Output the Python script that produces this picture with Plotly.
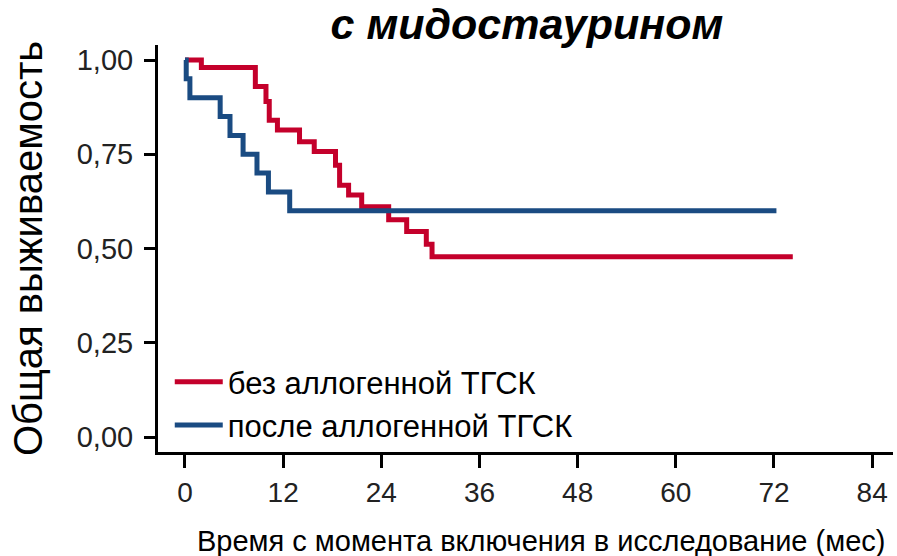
import plotly.graph_objects as go

# Kaplan-Meier estimates (time in months, overall survival)
no_allo_time = [0, 2.0, 8.6, 9.9, 10.3, 11.3, 14.0, 15.8, 18.4, 18.9, 20.0, 21.6, 24.9, 27.1, 29.5, 30.2, 74.3]
no_allo_surv = [1.0, 0.98, 0.93, 0.89, 0.84, 0.814, 0.783, 0.757, 0.721, 0.668, 0.642, 0.611, 0.576, 0.545, 0.511, 0.478, 0.478]

post_allo_time = [0, 0.15, 0.6, 4.3, 5.5, 7.1, 8.8, 10.2, 12.8, 72.3]
post_allo_surv = [1.0, 0.95, 0.90, 0.85, 0.80, 0.75, 0.70, 0.65, 0.60, 0.60]

x_ticks = [0, 12, 24, 36, 48, 60, 72, 84]
y_ticks = [0, 0.25, 0.5, 0.75, 1.0]
y_tick_labels = ["0,00", "0,25", "0,50", "0,75", "1,00"]

RED = "#C4002B"
BLUE = "#1A4B82"
FONT = "Arial, Liberation Sans, sans-serif"

fig = go.Figure()
fig.add_trace(go.Scatter(
    x=no_allo_time, y=no_allo_surv, mode="lines", line_shape="hv",
    line=dict(color=RED, width=5), name="без аллогенной ТГСК",
    legendgroup="a",
))
fig.add_trace(go.Scatter(
    x=post_allo_time, y=post_allo_surv, mode="lines", line_shape="hv",
    line=dict(color=BLUE, width=5), name="после аллогенной ТГСК",
    legendgroup="b",
))

fig.update_layout(
    width=897, height=556,
    margin=dict(l=158, r=4, t=45, b=104),
    paper_bgcolor="white", plot_bgcolor="white",
    font=dict(family=FONT, color="black"),
    title=dict(
        text="с мидостаурином", x=0.502, xref="paper", xanchor="center",
        y=1 - 24 / 556, yref="container", yanchor="middle",
        font=dict(size=43, family=FONT, weight="bold", style="italic", color="black"),
    ),
    showlegend=True,
    legend=dict(
        x=0.016, y=0.0, xanchor="left", yanchor="bottom",
        bgcolor="rgba(0,0,0,0)", font=dict(size=31, color="black"),
        tracegroupgap=0, itemwidth=48,
    ),
    annotations=[dict(
        text="Время с момента включения в исследование (мес)",
        xref="paper", yref="paper", x=0.521, y=-(541 - 452) / 407,
        xanchor="center", yanchor="middle", showarrow=False,
        font=dict(size=29, color="black"),
    )],
)

fig.update_xaxes(
    range=[-3.3, 86.55], tickvals=x_ticks, ticktext=[str(t) for t in x_ticks],
    showline=True, linecolor="black", linewidth=3,
    ticks="outside", ticklen=13, tickwidth=3, tickcolor="black",
    tickfont=dict(size=28, color="#222"), showgrid=False, zeroline=False,
)
fig.update_yaxes(
    range=[-0.0398, 1.0398], tickvals=y_ticks, ticktext=y_tick_labels,
    showline=True, linecolor="black", linewidth=3,
    ticks="outside", ticklen=11, tickwidth=3, tickcolor="black",
    tickfont=dict(size=29, color="#222"), showgrid=False, zeroline=False,
    ticklabelstandoff=5,
    title=dict(text="Общая выживаемость", font=dict(size=40, color="black"), standoff=22),
)

fig.write_html("out.html")
